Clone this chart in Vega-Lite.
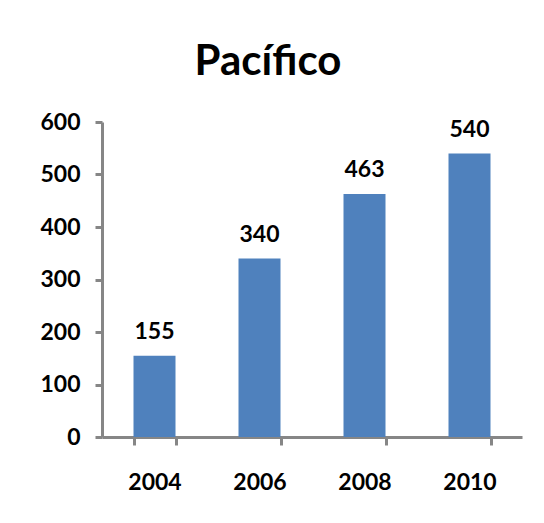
{
  "$schema": "https://vega.github.io/schema/vega-lite/v6.json",
  "width": 420,
  "height": 315,
  "autosize": {"type": "none"},
  "padding": {"left": 102, "top": 122, "right": 22, "bottom": 86},
  "background": "white",
  "title": {
    "text": "Pacífico",
    "font": "Lato",
    "fontSize": 42,
    "fontWeight": "bold",
    "color": "black",
    "anchor": "middle",
    "dx": -44,
    "offset": 27
  },
  "data": {
    "values": [
      {"year": "2004", "value": 155},
      {"year": "2006", "value": 340},
      {"year": "2008", "value": 463},
      {"year": "2010", "value": 540}
    ]
  },
  "encoding": {
    "x": {
      "field": "year",
      "type": "ordinal",
      "title": null,
      "scale": {"paddingInner": 0.6, "paddingOuter": 0.3},
      "axis": {
        "labelAngle": 0,
        "labelFont": "Lato",
        "labelFontSize": 23,
        "labelFontWeight": "bold",
        "labelColor": "black",
        "labelPadding": 26,
        "tickBand": "extent",
        "tickSize": 8,
        "tickWidth": 3,
        "domainWidth": 3,
        "domainColor": "#868686",
        "tickColor": "#868686"
      }
    },
    "y": {
      "field": "value",
      "type": "quantitative",
      "title": null,
      "scale": {"domain": [0, 600], "nice": false},
      "axis": {
        "values": [0, 100, 200, 300, 400, 500, 600],
        "grid": false,
        "labelFont": "Lato",
        "labelFontSize": 23,
        "labelFontWeight": "bold",
        "labelColor": "black",
        "labelPadding": 15,
        "tickSize": 7,
        "tickWidth": 3,
        "domainWidth": 3,
        "domainColor": "#868686",
        "tickColor": "#868686"
      }
    }
  },
  "layer": [
    {"mark": {"type": "bar", "color": "#4F81BD"}},
    {
      "mark": {
        "type": "text",
        "baseline": "bottom",
        "dy": -12,
        "font": "Lato",
        "fontSize": 23,
        "fontWeight": "bold",
        "color": "black"
      },
      "encoding": {"text": {"field": "value", "type": "quantitative"}}
    }
  ],
  "config": {"view": {"stroke": null}}
}
